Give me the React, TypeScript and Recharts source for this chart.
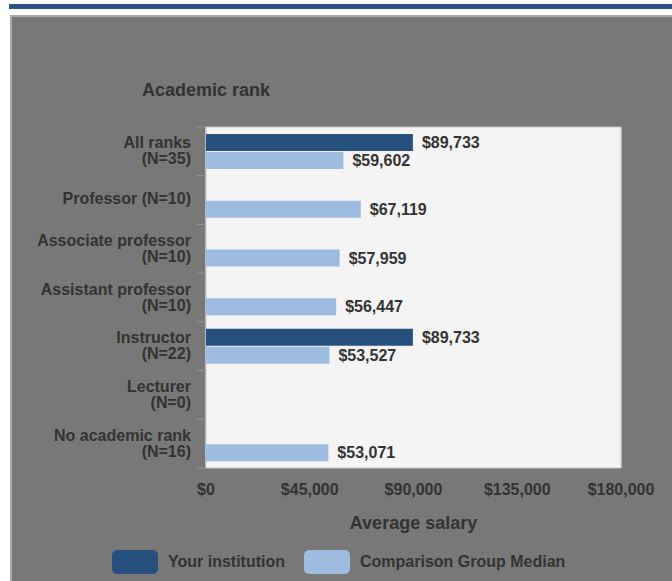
import React from 'react';
import {
  BarChart,
  Bar,
  XAxis,
  YAxis,
  CartesianGrid,
  LabelList,
  Label,
  ReferenceArea,
} from 'recharts';

// Chart values
const ranks = [
  'All ranks\n(N=35)',
  'Professor (N=10)',
  'Associate professor\n(N=10)',
  'Assistant professor\n(N=10)',
  'Instructor\n(N=22)',
  'Lecturer\n(N=0)',
  'No academic rank\n(N=16)',
];
const yourInstitution = [89733, null, null, null, 89733, null, null];
const comparisonMedian = [59602, 67119, 57959, 56447, 53527, null, 53071];
const salaryTicks = [0, 45000, 90000, 135000, 180000];

const DARK = '#27507e';
const LIGHT = '#9dbce0';
const TEXT = '#333333';
const FONT = '"Liberation Sans", Arial, sans-serif';

const data = ranks.map((rank, i) => ({
  rank,
  yours: yourInstitution[i],
  median: comparisonMedian[i],
}));

const money = (v: any) => (v == null ? '' : `$${Number(v).toLocaleString('en-US')}`);

// eslint-disable-next-line @typescript-eslint/no-explicit-any
const RankTick = ({ x, y, payload, index }: any) => {
  const lines = String(payload.value).split('\n');
  const half = payload.offset || 0;
  const single = lines.length === 1;
  return (
    <g>
      <line x1={x + 6} x2={x + 15} y1={y - half} y2={y - half} stroke="#959595" />
      {index === ranks.length - 1 && (
        <line x1={x + 6} x2={x + 15} y1={y + half} y2={y + half} stroke="#959595" />
      )}
      {lines.map((line, i) => (
        <text
          key={i}
          x={x}
          y={y + (single ? -2 : i === 0 ? -9 : 7) + 6}
          textAnchor="end"
          fill={TEXT}
          fontFamily={FONT}
          fontWeight="bold"
          fontSize={16}
        >
          {line}
        </text>
      ))}
    </g>
  );
};

const App: React.FC = () => {
  return (
    <div
      style={{
        position: 'absolute',
        left: 0,
        top: 0,
        width: 672,
        height: 581,
        overflow: 'hidden',
        background: '#ffffff',
        fontFamily: FONT,
      }}
    >
      <div style={{ position: 'absolute', left: 9, top: 4, width: 663, height: 5, background: '#2b5282' }} />
      <div
        style={{
          position: 'absolute',
          left: 10,
          top: 15,
          width: 662,
          height: 566,
          background: '#787878',
          borderTop: '2px solid #a9a9a9',
          borderLeft: '2px solid #a9a9a9',
          boxSizing: 'border-box',
        }}
      />
      <div style={{ position: 'absolute', left: 0, top: 0 }}>
        <BarChart
          width={672}
          height={581}
          data={data}
          layout="vertical"
          margin={{ top: 127, right: 51, bottom: 83, left: 0 }}
          barSize={17}
          barGap={1}
        >
          <ReferenceArea
            x1={0}
            x2={180000}
            fill="#f4f4f4"
            fillOpacity={1}
            stroke="#c4c4c4"
            strokeWidth={1}
          />
          <CartesianGrid horizontal={false} stroke="#dbe4f0" />
          <XAxis
            type="number"
            domain={[0, 180000]}
            ticks={salaryTicks}
            tickFormatter={money}
            axisLine={false}
            tickLine={false}
            tickSize={6}
            tickMargin={10}
            height={30}
            tick={{ fill: TEXT, fontSize: 16, fontWeight: 'bold', fontFamily: FONT }}
          >
            <Label
              value="Average salary"
              position="bottom"
              offset={18}
              fill={TEXT}
              fontSize={18}
              fontWeight="bold"
              fontFamily={FONT}
            />
          </XAxis>
          <YAxis
            type="category"
            dataKey="rank"
            width={206}
            axisLine={false}
            tickLine={false}
            tickSize={0}
            tickMargin={15}
            interval={0}
            tick={<RankTick />}
          >
            <Label
              content={({ viewBox }: any) => (
                <text
                  x={viewBox.x + viewBox.width}
                  y={viewBox.y - 31}
                  textAnchor="middle"
                  fill={TEXT}
                  fontSize={18}
                  fontWeight="bold"
                  fontFamily={FONT}
                >
                  Academic rank
                </text>
              )}
            />
          </YAxis>
          <Bar dataKey="yours" fill={DARK} isAnimationActive={false}>
            <LabelList
              dataKey="yours"
              position="right"
              offset={9}
              formatter={money}
              fill={TEXT}
              fontSize={16}
              fontWeight="bold"
              fontFamily={FONT}
            />
          </Bar>
          <Bar dataKey="median" fill={LIGHT} isAnimationActive={false}>
            <LabelList
              dataKey="median"
              position="right"
              offset={9}
              formatter={money}
              fill={TEXT}
              fontSize={16}
              fontWeight="bold"
              fontFamily={FONT}
            />
          </Bar>
        </BarChart>
      </div>
      <div
        style={{
          position: 'absolute',
          left: 112,
          top: 550,
          height: 24,
          display: 'flex',
          alignItems: 'center',
          fontSize: 16,
          fontWeight: 'bold',
          color: TEXT,
          whiteSpace: 'nowrap',
        }}
      >
        <span style={{ width: 46, height: 24, borderRadius: 5, background: DARK, display: 'inline-block' }} />
        <span style={{ marginLeft: 10, marginRight: 19 }}>Your institution</span>
        <span style={{ width: 46, height: 24, borderRadius: 5, background: LIGHT, display: 'inline-block' }} />
        <span style={{ marginLeft: 10 }}>Comparison Group Median</span>
      </div>
    </div>
  );
};

export default App;
